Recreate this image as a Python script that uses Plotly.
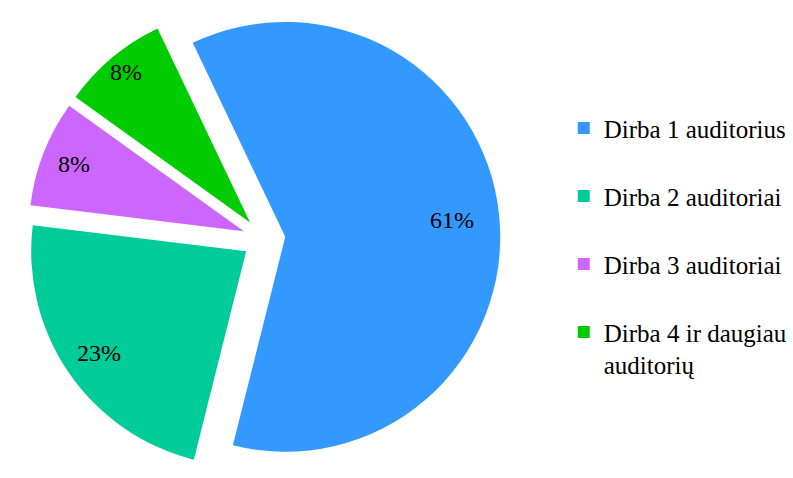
import math
import plotly.graph_objects as go

labels = ["Dirba 1 auditorius", "Dirba 2 auditoriai", "Dirba 3 auditoriai",
          "Dirba 4 ir daugiau<br>auditorių"]
values = [61, 23, 8, 8]
colors = ["#3399FF", "#00CC99", "#CC66FF", "#00CC00"]

# style / layout settings
W, H = 793, 478
PULL = 0.1
ROTATION = -25.5
DOMAIN_X = [0.035, 0.639]
LABEL_RADIUS = [0.78, 0.83, 0.85, 0.90]   # radial position of % labels (fraction of r)
FONT = "Times New Roman, Liberation Serif, serif"

legend_labels = [l if "<br>" in l else l + "<br>&nbsp;" for l in labels]

fig = go.Figure(go.Pie(
    labels=legend_labels,
    values=values,
    marker=dict(colors=colors, line=dict(width=0)),
    pull=[PULL] * len(values),
    sort=False,
    direction="clockwise",
    rotation=ROTATION,
    textinfo="none",
    domain=dict(x=DOMAIN_X, y=[0, 1]),
    hoverinfo="label+percent",
))

# percentage labels placed along each slice's mid-angle (same geometry as plotly's pie)
r = min(W * (DOMAIN_X[1] - DOMAIN_X[0]), H) / (2 + 2 * PULL)
cx = W * (DOMAIN_X[0] + DOMAIN_X[1]) / 2
cy = H / 2
total = sum(values)
start = ROTATION
for v, f in zip(values, LABEL_RADIUS):
    span = 360 * v / total
    mid = math.radians(start + span / 2)
    start += span
    d = r * (PULL + f)
    px = cx + d * math.sin(mid)
    py = cy - d * math.cos(mid)
    fig.add_annotation(
        x=px / W, y=1 - py / H, xref="paper", yref="paper",
        text=f"{round(100 * v / total)}%", showarrow=False,
        font=dict(family=FONT, size=24, color="black"),
        xanchor="center", yanchor="middle",
    )

fig.update_layout(
    width=W, height=H,
    margin=dict(l=0, r=0, t=0, b=0),
    paper_bgcolor="white", plot_bgcolor="white",
    font=dict(family=FONT, size=25, color="black"),
    legend=dict(
        x=0.72, y=0.78, xanchor="left", yanchor="top",
        valign="top",
        font=dict(family=FONT, size=25, color="black"),
        bgcolor="rgba(0,0,0,0)",
    ),
)

fig.write_html("out.html", config={"displayModeBar": False},
               post_script="document.body.style.margin='0';")
